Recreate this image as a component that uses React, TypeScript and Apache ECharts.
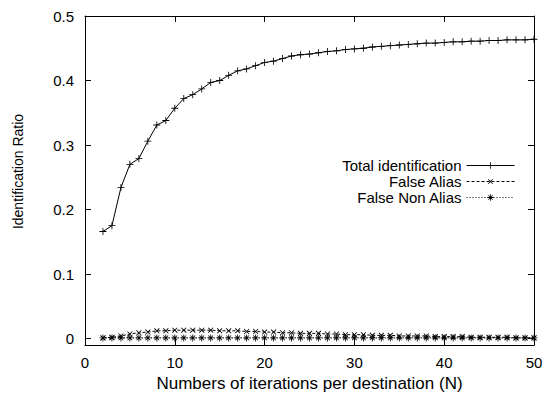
import React, { useEffect, useRef } from "react";
import * as echarts from "echarts";

const iterations = [2, 3, 4, 5, 6, 7, 8, 9, 10, 11, 12, 13, 14, 15, 16, 17, 18, 19, 20, 21, 22, 23, 24, 25, 26, 27, 28, 29, 30, 31, 32, 33, 34, 35, 36, 37, 38, 39, 40, 41, 42, 43, 44, 45, 46, 47, 48, 49, 50];
const totalIdentification = [0.166, 0.175, 0.234, 0.27, 0.279, 0.306, 0.331, 0.338, 0.357, 0.372, 0.378, 0.387, 0.397, 0.4, 0.408, 0.415, 0.418, 0.423, 0.428, 0.43, 0.434, 0.438, 0.44, 0.441, 0.443, 0.445, 0.446, 0.448, 0.449, 0.45, 0.452, 0.453, 0.454, 0.455, 0.456, 0.457, 0.458, 0.458, 0.459, 0.46, 0.46, 0.461, 0.461, 0.462, 0.462, 0.463, 0.463, 0.463, 0.464];
const falseAlias = [0.001, 0.002, 0.004, 0.007, 0.009, 0.01, 0.012, 0.012, 0.013, 0.013, 0.013, 0.013, 0.013, 0.012, 0.012, 0.012, 0.011, 0.011, 0.01, 0.01, 0.009, 0.009, 0.008, 0.008, 0.008, 0.007, 0.007, 0.006, 0.006, 0.006, 0.005, 0.005, 0.005, 0.004, 0.004, 0.004, 0.004, 0.003, 0.003, 0.003, 0.003, 0.002, 0.002, 0.002, 0.002, 0.002, 0.001, 0.001, 0.001];
const falseNonAlias = [0.001, 0.001, 0.001, 0.001, 0.001, 0.001, 0.001, 0.001, 0.001, 0.001, 0.001, 0.001, 0.001, 0.001, 0.001, 0.001, 0.001, 0.001, 0.001, 0.001, 0.001, 0.001, 0.001, 0.001, 0.001, 0.001, 0.001, 0.001, 0.001, 0.001, 0.001, 0.001, 0.001, 0.001, 0.001, 0.001, 0.001, 0.001, 0.001, 0.001, 0.001, 0.001, 0.001, 0.001, 0.001, 0.001, 0.001, 0.001, 0.001];
const seriesNames = ["Total identification", "False Alias", "False Non Alias"];
const xTicks = [0, 10, 20, 30, 40, 50];
const yTicks = [0, 0.1, 0.2, 0.3, 0.4, 0.5];

const PLUS = "path://M4.4,0h1.2v10h-1.2zM0,4.4h10v1.2h-10z";
const STAR = "path://M4.4,0h1.2v10h-1.2zM0,4.4h10v1.2h-10zM1.2,2L2,1.2L8.8,8L8,8.8zM8,1.2L8.8,2L2,8.8L1.2,8z";

const FONT = "Liberation Sans, Arial, Helvetica, sans-serif";

export default function App() {
  const ref = useRef<HTMLDivElement>(null);
  useEffect(() => {
    if (!ref.current) return;
    const chart = echarts.init(ref.current, undefined, { renderer: "svg" });
    const pairs = (ys: number[]) => iterations.map((x, i) => [x, ys[i]]);
    const legendBase = {
      orient: "vertical",
      align: "right",
      right: 33,
      itemWidth: 48,
      itemHeight: 8,
      padding: 0,
      lineStyle: { width: 1 },
      textStyle: { fontFamily: FONT, fontSize: 15, color: "#000" },
      selectedMode: false,
    };
    const lineCommon = { show: true, onZero: false, lineStyle: { color: "#000", width: 1 } };
    chart.setOption({
      animation: false,
      backgroundColor: "#fff",
      grid: { left: 85, top: 16, right: 14, bottom: 49, containLabel: false, outerBoundsMode: "none" },
      legend: [
        { ...legendBase, top: 158, data: [seriesNames[0]] },
        { ...legendBase, top: 174, data: [seriesNames[1]] },
        { ...legendBase, top: 190, data: [seriesNames[2]] },
      ],
      xAxis: [
        {
          type: "value",
          min: 0,
          max: 50,
          interval: 10,
          name: "Numbers of iterations per destination (N)",
          nameLocation: "middle",
          nameGap: 28,
          nameTextStyle: { fontFamily: FONT, fontSize: 17, color: "#000" },
          axisLine: lineCommon,
          axisTick: { show: true, inside: true, length: 6, lineStyle: { color: "#000" }, customValues: xTicks },
          axisLabel: { fontFamily: FONT, fontSize: 15, color: "#000", margin: 10, customValues: xTicks },
          splitLine: { show: false },
        },
        {
          type: "value",
          position: "top",
          min: 0,
          max: 50,
          interval: 10,
          axisLine: lineCommon,
          axisTick: { show: true, inside: true, length: 6, lineStyle: { color: "#000" }, customValues: xTicks },
          axisLabel: { show: false },
          splitLine: { show: false },
        },
      ],
      yAxis: [
        {
          type: "value",
          min: -0.01,
          max: 0.5,
          name: "Identification Ratio",
          nameLocation: "middle",
          nameGap: 60,
          nameTextStyle: { fontFamily: FONT, fontSize: 14, color: "#000", padding: [0, 0, 0, 18] },
          axisLine: lineCommon,
          axisTick: { show: true, inside: true, length: 6, lineStyle: { color: "#000" }, customValues: yTicks },
          axisLabel: { fontFamily: FONT, fontSize: 15, color: "#000", margin: 11, customValues: yTicks, formatter: (v: number) => String(v) },
          splitLine: { show: false },
        },
        {
          type: "value",
          position: "right",
          min: -0.01,
          max: 0.5,
          axisLine: lineCommon,
          axisTick: { show: true, inside: true, length: 6, lineStyle: { color: "#000" }, customValues: yTicks },
          axisLabel: { show: false },
          splitLine: { show: false },
        },
      ],
      series: [
        {
          name: seriesNames[0],
          type: "line",
          data: pairs(totalIdentification),
          symbol: PLUS,
          symbolSize: 7,
          showAllSymbol: true,
          itemStyle: { color: "#000" },
          lineStyle: { color: "#000", width: 1, type: "solid" },
        },
        {
          name: seriesNames[1],
          type: "line",
          data: pairs(falseAlias),
          symbol: PLUS,
          symbolRotate: 45,
          symbolSize: 7,
          showAllSymbol: true,
          itemStyle: { color: "#000" },
          lineStyle: { color: "#000", width: 1, type: [3, 2] },
        },
        {
          name: seriesNames[2],
          type: "line",
          data: pairs(falseNonAlias),
          symbol: STAR,
          symbolSize: 7,
          showAllSymbol: true,
          itemStyle: { color: "#000" },
          lineStyle: { color: "#000", width: 1, type: [1, 2] },
        },
      ],
    });
    return () => chart.dispose();
  }, []);
  return <div ref={ref} style={{ width: 548, height: 394, position: "absolute", left: 0, top: 0 }} />;
}
